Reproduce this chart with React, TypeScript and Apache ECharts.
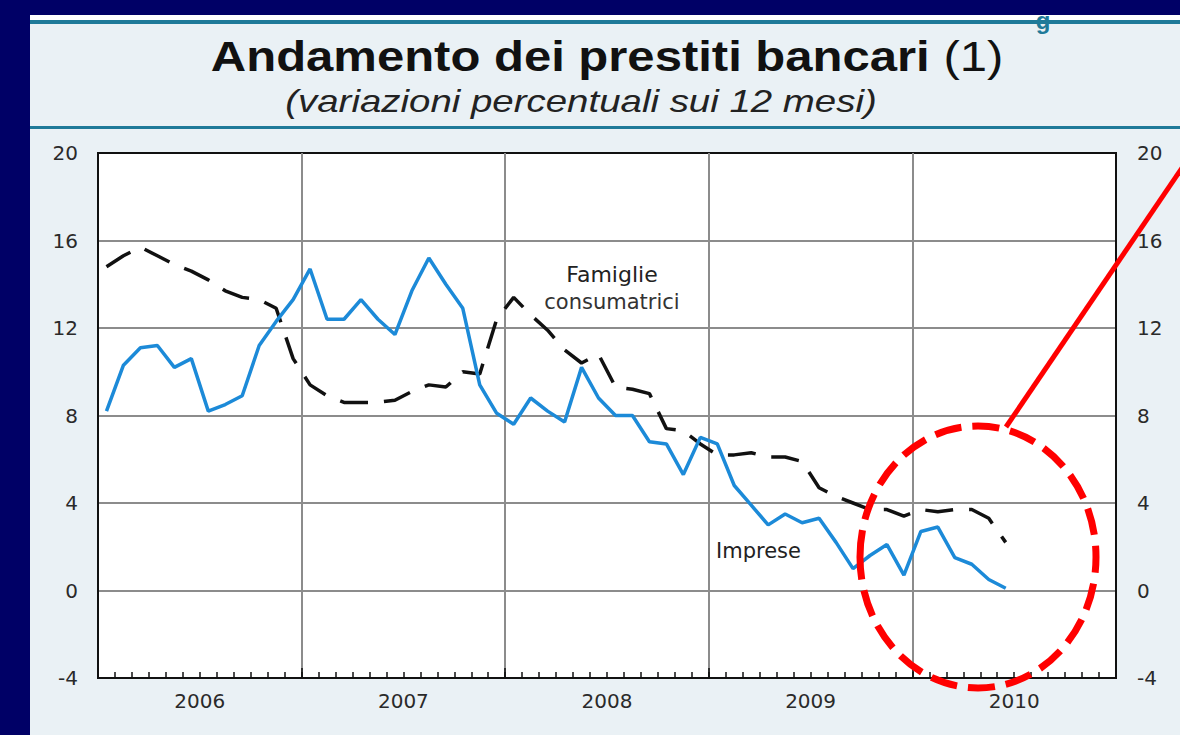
import React, { useEffect, useRef } from "react";
import * as echarts from "echarts";

// ---- data (monthly, Jan 2006 .. Jun 2010) ----
const startYear = 2006;
const yearLabels = ["2006", "2007", "2008", "2009", "2010"];
const yMin = -4;
const yMax = 20;
const yStep = 4;

// Imprese (blue solid)
const imprese = [
  8.2, 10.3, 11.1, 11.2, 10.2, 10.6, 8.2, 8.5, 8.9, 11.2, 12.3, 13.3,
  14.7, 12.4, 12.4, 13.3, 12.4, 11.7, 13.7, 15.2, 14.0, 12.9, 9.4, 8.1,
  7.6, 8.8, 8.2, 7.7, 10.2, 8.8, 8.0, 8.0, 6.8, 6.7, 5.3, 7.0,
  6.7, 4.8, 3.9, 3.0, 3.5, 3.1, 3.3, 2.2, 1.0, 1.6, 2.1, 0.7,
  2.7, 2.9, 1.5, 1.2, 0.5, 0.1,
];

// Famiglie consumatrici (black dashed)
const famiglie = [
  14.8, 15.3, 15.7, 15.3, 14.9, 14.6, 14.2, 13.7, 13.4, 13.3, 12.9, 10.6,
  9.4, 8.9, 8.6, 8.6, 8.6, 8.7, 9.1, 9.4, 9.3, 10.0, 9.9, 12.4,
  13.4, 12.6, 11.9, 11.0, 10.4, 10.8, 9.3, 9.2, 9.0, 7.4, 7.3, 6.7,
  6.2, 6.2, 6.3, 6.1, 6.1, 5.9, 4.7, 4.3, 4.0, 3.7, 3.7, 3.4,
  3.7, 3.6, 3.7, 3.7, 3.3, 2.2,
];

const titleMain = "Andamento dei prestiti bancari";
const titleNote = "(1)";
const subtitle = "(variazioni percentuali sui 12 mesi)";
const labelFam1 = "Famiglie";
const labelFam2 = "consumatrici";
const labelImp = "Imprese";

const totalMonths = yearLabels.length * 12;

export default function App() {
  const ref = useRef<HTMLDivElement>(null);

  useEffect(() => {
    if (!ref.current) return;
    const chart = echarts.init(ref.current, null, { renderer: "svg" });
    const toPts = (arr: number[]) => arr.map((v, i) => [i + 0.5, v]);

    const tickFont = {
      fontFamily: "DejaVu Sans",
      fontSize: 20,
      color: "#2a2a2a",
    };

    chart.setOption({
      animation: false,
      backgroundColor: "#eaf1f5",
      grid: {
        left: 98,
        top: 153,
        width: 1018,
        height: 525,
        show: true,
        backgroundColor: "#ffffff",
        borderColor: "#111111",
        borderWidth: 2,
      },
      xAxis: [
        {
          type: "value",
          min: 0,
          max: totalMonths,
          interval: 12,
          position: "bottom",
          axisLine: { show: true, onZero: false, lineStyle: { color: "#111", width: 2 } },
          axisTick: { show: true, inside: true, length: 10, lineStyle: { color: "#111", width: 1.5 } },
          axisLabel: { show: false },
          splitLine: {
            show: true,
            showMinLine: false,
            showMaxLine: false,
            lineStyle: { color: "#8c8c8c", width: 2 },
          },
        },
        {
          type: "value",
          min: 0,
          max: totalMonths,
          interval: 6,
          position: "bottom",
          axisLine: { show: false, onZero: false },
          axisTick: { show: false },
          splitLine: { show: false },
          axisLabel: {
            ...tickFont,
            margin: 13,
            formatter: (v: number) =>
              v % 12 === 6 ? yearLabels[(v - 6) / 12] ?? String(startYear + (v - 6) / 12) : "",
          },
        },
        {
          type: "value",
          min: 0,
          max: totalMonths,
          interval: 1,
          position: "bottom",
          axisLine: { show: false, onZero: false },
          axisTick: { show: true, inside: true, length: 6, lineStyle: { color: "#111", width: 1.5 } },
          axisLabel: { show: false },
          splitLine: { show: false },
        },
      ],
      yAxis: [
        {
          type: "value",
          min: yMin,
          max: yMax,
          interval: yStep,
          position: "left",
          axisLine: { show: true, onZero: false, lineStyle: { color: "#111", width: 2 } },
          axisTick: { show: false },
          axisLabel: { ...tickFont, margin: 20 },
          splitLine: {
            show: true,
            showMinLine: false,
            showMaxLine: false,
            lineStyle: { color: "#8c8c8c", width: 2 },
          },
        },
        {
          type: "value",
          min: yMin,
          max: yMax,
          interval: yStep,
          position: "right",
          axisLine: { show: true, onZero: false, lineStyle: { color: "#111", width: 2 } },
          axisTick: { show: false },
          axisLabel: { ...tickFont, margin: 21 },
          splitLine: { show: false },
        },
      ],
      series: [
        {
          type: "line",
          name: "Famiglie consumatrici",
          data: toPts(famiglie),
          xAxisIndex: 0,
          yAxisIndex: 0,
          symbol: "none",
          lineStyle: { color: "#111111", width: 3.5, type: [28, 16] },
          z: 3,
        },
        {
          type: "line",
          name: "Imprese",
          data: toPts(imprese),
          xAxisIndex: 0,
          yAxisIndex: 0,
          symbol: "none",
          lineStyle: { color: "#1c8ad8", width: 3.5 },
          z: 4,
        },
      ],
      graphic: [
        { type: "rect", shape: { x: 0, y: 0, width: 1180, height: 15 }, style: { fill: "#000066" }, silent: true },
        { type: "rect", shape: { x: 0, y: 0, width: 30, height: 735 }, style: { fill: "#000066" }, silent: true },
        { type: "rect", shape: { x: 30, y: 15, width: 1150, height: 5 }, style: { fill: "#ffffff" }, silent: true },
        { type: "rect", shape: { x: 30, y: 20, width: 1150, height: 4 }, style: { fill: "#1f7a99" }, silent: true },
        { type: "rect", shape: { x: 30, y: 126, width: 1150, height: 3 }, style: { fill: "#1f7a99" }, silent: true },
        {
          type: "text",
          x: 1043,
          y: 20,
          style: { text: "g", fill: "#1f7a99", font: "bold 24px 'Liberation Sans'", textAlign: "center", textVerticalAlign: "middle" },
          z: 1,
          silent: true,
        },
        {
          type: "text",
          x: 607,
          y: 56,
          scaleX: 1.14,
          style: {
            text: `{b|${titleMain}}{n| ${titleNote}}`,
            textAlign: "center",
            textVerticalAlign: "middle",
            fill: "#111",
            rich: {
              b: { fontFamily: "Liberation Sans", fontWeight: "bold", fontSize: 43, fill: "#111" },
              n: { fontFamily: "Liberation Sans", fontWeight: "normal", fontSize: 43, fill: "#111" },
            },
          },
          silent: true,
        },
        {
          type: "text",
          x: 581,
          y: 101,
          scaleX: 1.24,
          style: {
            text: subtitle,
            font: "italic 31px 'Liberation Sans'",
            fill: "#222",
            textAlign: "center",
            textVerticalAlign: "middle",
          },
          silent: true,
        },
        {
          type: "text",
          x: 612,
          y: 274,
          style: { text: labelFam1, font: "22px 'DejaVu Sans'", fill: "#222", textAlign: "center", textVerticalAlign: "middle" },
          z: 10,
          silent: true,
        },
        {
          type: "text",
          x: 612,
          y: 302,
          style: { text: labelFam2, font: "21px 'DejaVu Sans'", fill: "#333", textAlign: "center", textVerticalAlign: "middle" },
          z: 10,
          silent: true,
        },
        {
          type: "text",
          x: 716,
          y: 551,
          style: { text: labelImp, font: "21px 'DejaVu Sans'", fill: "#222", textAlign: "left", textVerticalAlign: "middle" },
          z: 10,
          silent: true,
        },
        {
          type: "ellipse",
          shape: { cx: 978, cy: 557, rx: 118, ry: 131 },
          style: { fill: "none", stroke: "#ff0000", lineWidth: 7, lineDash: [27, 11] },
          z: 100,
          silent: true,
        },
        {
          type: "line",
          shape: { x1: 1006, y1: 427, x2: 1186, y2: 162 },
          style: { stroke: "#ff0000", lineWidth: 5 },
          z: 100,
          silent: true,
        },
      ],
    });

    return () => chart.dispose();
  }, []);

  return (
    <div
      ref={ref}
      style={{ position: "absolute", left: 0, top: 0, width: 1180, height: 735 }}
    />
  );
}
